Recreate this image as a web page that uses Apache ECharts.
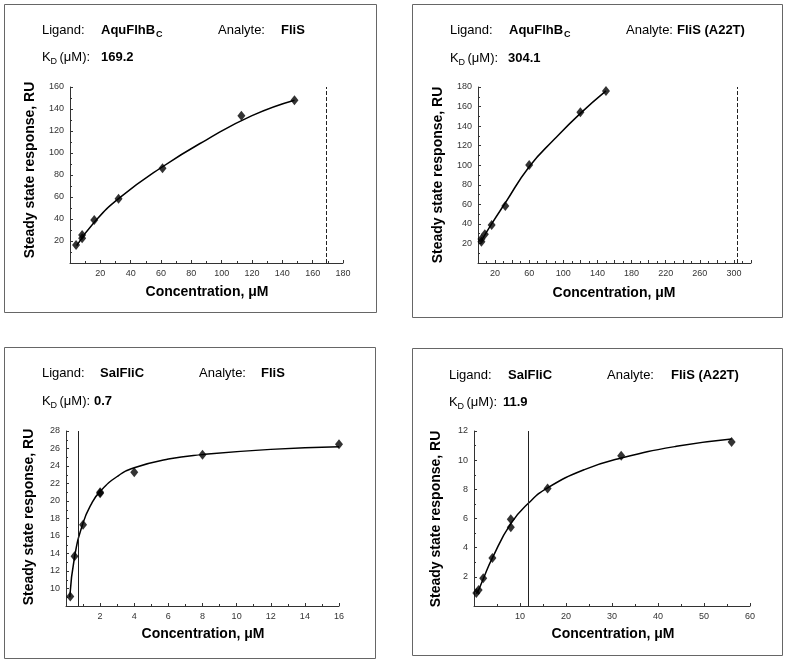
<!DOCTYPE html>
<html>
<head>
<meta charset="utf-8">
<script src="https://cdn.jsdelivr.net/npm/echarts@6/dist/echarts.min.js"></script>
<style>
html,body{margin:0;padding:0;background:#fff;}
#chart{width:787px;height:661px;}
</style>
</head>
<body>
<div id="chart"></div>
<script>
// ---- Panel 1: AquFlhBc / FliS ----
const p1Conc = [4, 8, 8, 16, 32, 61, 113, 148];
const p1Resp = [16.4, 25.5, 22.5, 39, 58.5, 86.2, 133.9, 148];
const p1FitConc = [4.4, 16, 32, 61, 90, 120, 148];
const p1FitResp = [15.8, 37, 58.5, 87.5, 112, 134, 148];
const p1Kd = 169.2;

// ---- Panel 2: AquFlhBc / FliS (A22T) ----
const p2Conc = [4, 4, 8, 16, 32, 60, 120, 150];
const p2Resp = [21.8, 24.5, 29.3, 38.9, 58.3, 100.2, 154.1, 175.9];
const p2FitConc = [4, 16, 32, 60, 90, 120, 150];
const p2FitResp = [23, 40, 61.5, 98.5, 127, 153, 176];
const p2Kd = 304.1;

// ---- Panel 3: SalFliC / FliS ----
const p3Conc = [0.25, 0.5, 1, 2, 2, 4, 8, 16];
const p3Resp = [9.1, 13.7, 17.3, 21.0, 20.9, 23.3, 25.3, 26.5];
const p3FitConc = [0.22, 0.5, 1, 1.5, 2, 3, 4, 6, 8, 12, 16];
const p3FitResp = [9.0, 13.6, 17.5, 19.7, 21.1, 22.8, 23.8, 24.8, 25.3, 25.9, 26.2];
const p3Kd = 0.7;

// ---- Panel 4: SalFliC / FliS (A22T) ----
const p4Conc = [0.5, 1, 2, 4, 8, 8, 16, 32, 56];
const p4Resp = [0.9, 1.1, 1.9, 3.3, 5.4, 5.95, 8.05, 10.3, 11.25];
const p4FitConc = [0.5, 1, 2, 4, 8, 12, 16, 24, 32, 44, 56];
const p4FitResp = [0.85, 1.1, 1.85, 3.3, 5.65, 7.1, 8.1, 9.35, 10.15, 10.95, 11.45];
const p4Kd = 11.9;

const xTitle = 'Concentration, μM';
const yTitle = 'Steady state response, RU';

const FONT = '"Liberation Sans", Arial, Helvetica, sans-serif';
const zip = (a, b) => a.map((v, i) => [v, b[i]]);

function xAxisCfg(idx, min, max, interval, formatter) {
  return {
    type: 'value', gridIndex: idx, min: min, max: max, interval: interval,
    splitLine: {show: false},
    axisLine: {show: true, onZero: false, lineStyle: {color: '#333', width: 1}},
    axisTick: {show: true, inside: true, length: 3, lineStyle: {color: '#333'}},
    minorTick: {show: true, splitNumber: 2, length: 2, lineStyle: {color: '#333'}},
    axisLabel: {show: true, showMinLabel: false, fontSize: 9, color: '#333', margin: 6, fontFamily: FONT,
      formatter: formatter || (v => String(v))}
  };
}
function yAxisCfg(idx, min, max, interval) {
  return {
    type: 'value', gridIndex: idx, min: min, max: max, interval: interval,
    splitLine: {show: false},
    axisLine: {show: true, onZero: false, lineStyle: {color: '#333', width: 1}},
    axisTick: {show: true, inside: true, length: 3, lineStyle: {color: '#333'}},
    minorTick: {show: true, splitNumber: 2, length: 2, lineStyle: {color: '#333'}},
    axisLabel: {show: true, showMinLabel: false, fontSize: 9, color: '#333', margin: 6, fontFamily: FONT}
  };
}
function seriesFor(idx, conc, resp, fitC, fitR, kd, dashed) {
  return [
    {
      type: 'line', xAxisIndex: idx, yAxisIndex: idx,
      data: zip(fitC, fitR), smooth: 0.5, showSymbol: false,
      lineStyle: {color: '#000', width: 1.5}, silent: true,
      markLine: {
        silent: true, symbol: ['none', 'none'], label: {show: false},
        lineStyle: {color: '#222', width: 1, type: dashed ? 'dashed' : 'solid'},
        data: [{xAxis: kd}]
      }
    },
    {
      type: 'scatter', xAxisIndex: idx, yAxisIndex: idx,
      data: zip(conc, resp), symbol: 'diamond', symbolSize: [8, 10],
      itemStyle: {color: '#000'}, z: 5
    }
  ];
}

function txt(x, y, s, opts) {
  return {
    type: 'text', x: x, y: y, silent: true,
    style: Object.assign({text: s, fill: '#000', font: '13px ' + FONT, textAlign: 'left', textVerticalAlign: 'middle'}, opts || {})
  };
}
function header(lx, ly, ligand, analyteX, analyteBoldX, analyte, kdY, kdValX, kdVal, ligandBoldX, subC) {
  const g = [
    txt(lx, ly, 'Ligand:'),
    txt(ligandBoldX, ly, ligand, {font: 'bold 13px ' + FONT}),
    txt(analyteX, ly, 'Analyte:'),
    txt(analyteBoldX, ly, analyte, {font: 'bold 13px ' + FONT}),
    txt(lx, kdY, 'K'),
    txt(lx + 8.5, kdY + 5, 'D', {font: '9px ' + FONT}),
    txt(lx + 17.5, kdY, '(μM):'),
    txt(kdValX, kdY, kdVal, {font: 'bold 13px ' + FONT})
  ];
  if (subC !== undefined) g.push(txt(subC, ly + 5, 'C', {font: 'bold 9px ' + FONT}));
  return g;
}
function frame(x, y, w, h) {
  return {type: 'rect', silent: true, shape: {x: x + 0.5, y: y + 0.5, width: w, height: h},
    style: {fill: 'none', stroke: '#666', lineWidth: 1}};
}
function yTitleEl(x, y) {
  return {type: 'text', x: x, y: y, rotation: Math.PI / 2, silent: true,
    style: {text: yTitle, fill: '#000', font: 'bold 14px ' + FONT, textAlign: 'center', textVerticalAlign: 'middle'}};
}
function xTitleEl(x, y) {
  return {type: 'text', x: x, y: y, silent: true,
    style: {text: xTitle, fill: '#000', font: 'bold 14px ' + FONT, textAlign: 'center', textVerticalAlign: 'middle'}};
}

const graphics = [].concat(
  [frame(4, 4, 372, 308), frame(412, 4, 370, 313), frame(4, 347, 371, 311), frame(412, 348, 370, 307)],
  header(42, 30, 'AquFlhB', 218, 281, 'FliS', 57, 101, '169.2', 101, 156),
  header(450, 30, 'AquFlhB', 626, 677, 'FliS (A22T)', 58, 508, '304.1', 509, 564),
  header(42, 373, 'SalFliC', 199, 261, 'FliS', 401, 94, '0.7', 100),
  header(449, 375, 'SalFliC', 607, 671, 'FliS (A22T)', 402, 503, '11.9', 508),
  [yTitleEl(30, 170), yTitleEl(438, 175), yTitleEl(29, 517), yTitleEl(436.5, 519)],
  [xTitleEl(207, 292), xTitleEl(614, 293), xTitleEl(203, 634), xTitleEl(613, 634)]
);

const chart = echarts.init(document.getElementById('chart'), null, {renderer: 'canvas'});
chart.setOption({
  animation: false,
  backgroundColor: '#fff',
  textStyle: {fontFamily: FONT},
  grid: [
    {left: 70, top: 87, width: 273, height: 176},
    {left: 478, top: 87, width: 273, height: 176},
    {left: 66, top: 431, width: 273, height: 175},
    {left: 474, top: 431, width: 276, height: 175}
  ],
  xAxis: [
    xAxisCfg(0, 0, 180, 20),
    xAxisCfg(1, 0, 320, 20, v => ((v - 20) % 40 === 0 ? String(v) : '')),
    xAxisCfg(2, 0, 16, 2),
    xAxisCfg(3, 0, 60, 10)
  ],
  yAxis: [
    yAxisCfg(0, 0, 160, 20),
    yAxisCfg(1, 0, 180, 20),
    yAxisCfg(2, 8, 28, 2),
    yAxisCfg(3, 0, 12, 2)
  ],
  series: [].concat(
    seriesFor(0, p1Conc, p1Resp, p1FitConc, p1FitResp, p1Kd, true),
    seriesFor(1, p2Conc, p2Resp, p2FitConc, p2FitResp, p2Kd, true),
    seriesFor(2, p3Conc, p3Resp, p3FitConc, p3FitResp, p3Kd, false),
    seriesFor(3, p4Conc, p4Resp, p4FitConc, p4FitResp, p4Kd, false)
  ),
  graphic: graphics
});
</script>
</body>
</html>
